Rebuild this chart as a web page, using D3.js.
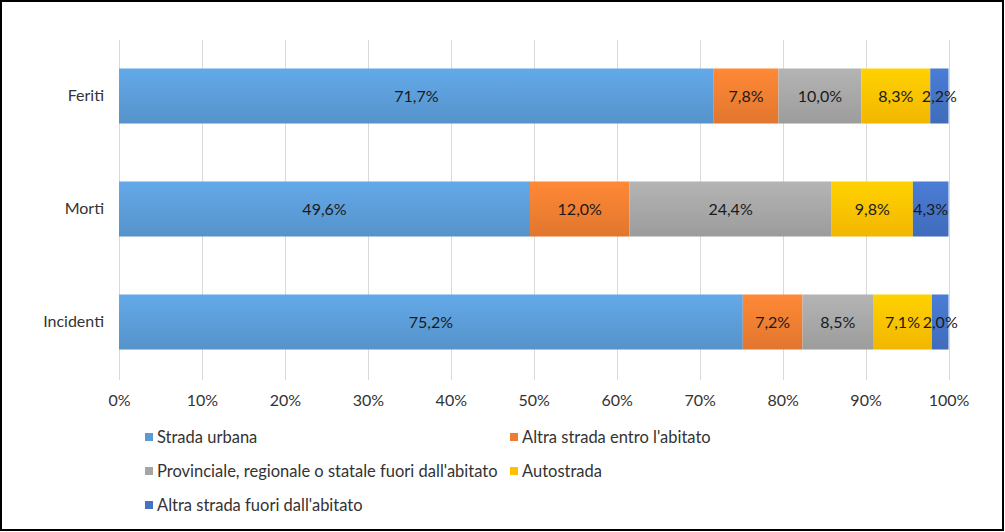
<!DOCTYPE html>
<html><head><meta charset="utf-8">
<script src="https://cdn.jsdelivr.net/npm/d3@7"></script>
<style>body{margin:0;background:#fff}svg{display:block}text{font-family:Lato,"Open Sans",sans-serif}</style>
</head><body><svg id="c" width="1005" height="532"></svg>
<script>
const categories = ["Feriti","Morti","Incidenti"];
const seriesNames = ["Strada urbana","Altra strada entro l'abitato","Provinciale, regionale o statale fuori dall'abitato","Autostrada","Altra strada fuori dall'abitato"];
const stradaUrbana = [71.7,49.6,75.2];
const altraEntro = [7.8,12.0,7.2];
const provinciale = [10.0,24.4,8.5];
const autostrada = [8.3,9.8,7.1];
const altraFuori = [2.2,4.3,2.0];
const tickValues = [0,0.1,0.2,0.3,0.4,0.5,0.6,0.7,0.8,0.9,1.0];
const colors = ["#5B9BD5","#ED7D31","#A5A5A5","#FFC000","#4472C4"];
const seriesVals = [stradaUrbana,altraEntro,provinciale,autostrada,altraFuori];

const rows = categories.map((c,i)=>{const o={cat:c};seriesNames.forEach((s,j)=>o[s]=seriesVals[j][i]);return o;});
const stack = d3.stack().keys(seriesNames).offset(d3.stackOffsetExpand)(rows);

const svg = d3.select("#c");
const defs = svg.append("defs");
colors.forEach((c,i)=>{
  const g = defs.append("linearGradient").attr("id","g"+i).attr("x1",0).attr("x2",0).attr("y1",0).attr("y2",1);
  g.append("stop").attr("offset","0%").attr("stop-color",d3.color(c).brighter(0.25));
  g.append("stop").attr("offset","100%").attr("stop-color",d3.color(c).darker(0.15));
});

const x = d3.scaleLinear().domain([0,1]).range([119,948.5]);
const y = d3.scaleBand().domain(categories).range([39.5,378.5]).paddingInner(0.513).paddingOuter(0.2565);

svg.append("g").selectAll("line").data(tickValues).join("line")
  .attr("x1",d=>Math.round(x(d))+0.5).attr("x2",d=>Math.round(x(d))+0.5)
  .attr("y1",40).attr("y2",380).attr("stroke","#D9D9D9").attr("stroke-width",1);

const gs = svg.append("g").selectAll("g").data(stack).join("g").attr("fill",(d,i)=>`url(#g${i})`);
gs.selectAll("rect").data(d=>d).join("rect")
  .attr("x",d=>x(d[0])).attr("width",d=>x(d[1])-x(d[0]))
  .attr("y",d=>y(d.data.cat)).attr("height",y.bandwidth());

const fmt = v=>v.toFixed(1).replace(".",",")+"%";
stack.forEach((s,j)=>{
  svg.append("g").selectAll("text").data(s).join("text")
    .attr("x",d=>(x(d[0])+x(d[1]))/2).attr("y",d=>y(d.data.cat)+y.bandwidth()/2)
    .attr("dy","0.36em").attr("text-anchor","middle").attr("font-size",16).attr("fill","#1a1a1a")
    .text((d,i)=>fmt(seriesVals[j][i]));
});

const xa = svg.append("g").attr("transform","translate(0,395)")
  .call(d3.axisBottom(x).tickValues(tickValues).tickSize(0).tickPadding(0).tickFormat(d3.format(".0%")));
xa.select(".domain").remove();
xa.selectAll("text").attr("font-size",16).attr("fill","#333").attr("font-family","Lato,'Open Sans',sans-serif").attr("dy","0.71em");

const ya = svg.append("g").attr("transform","translate(104,0)")
  .call(d3.axisLeft(y).tickSize(0).tickPadding(0));
ya.select(".domain").remove();
ya.selectAll("text").attr("font-size",16).attr("fill","#333").attr("font-family","Lato,'Open Sans',sans-serif");

const legPos = [[145,437],[510,437],[145,471],[510,471],[145,505]];
const leg = svg.append("g").selectAll("g").data(seriesNames).join("g")
  .attr("transform",(d,i)=>`translate(${legPos[i][0]},${legPos[i][1]})`);
leg.append("rect").attr("x",0).attr("y",-4).attr("width",8).attr("height",8).attr("fill",(d,i)=>colors[i]);
leg.append("text").attr("x",12).attr("dy","0.36em").attr("font-size",16.5).attr("fill","#333").text(d=>d);

svg.append("rect").attr("x",1).attr("y",1).attr("width",1002).attr("height",529)
  .attr("fill","none").attr("stroke","#000").attr("stroke-width",2);
</script></body></html>
